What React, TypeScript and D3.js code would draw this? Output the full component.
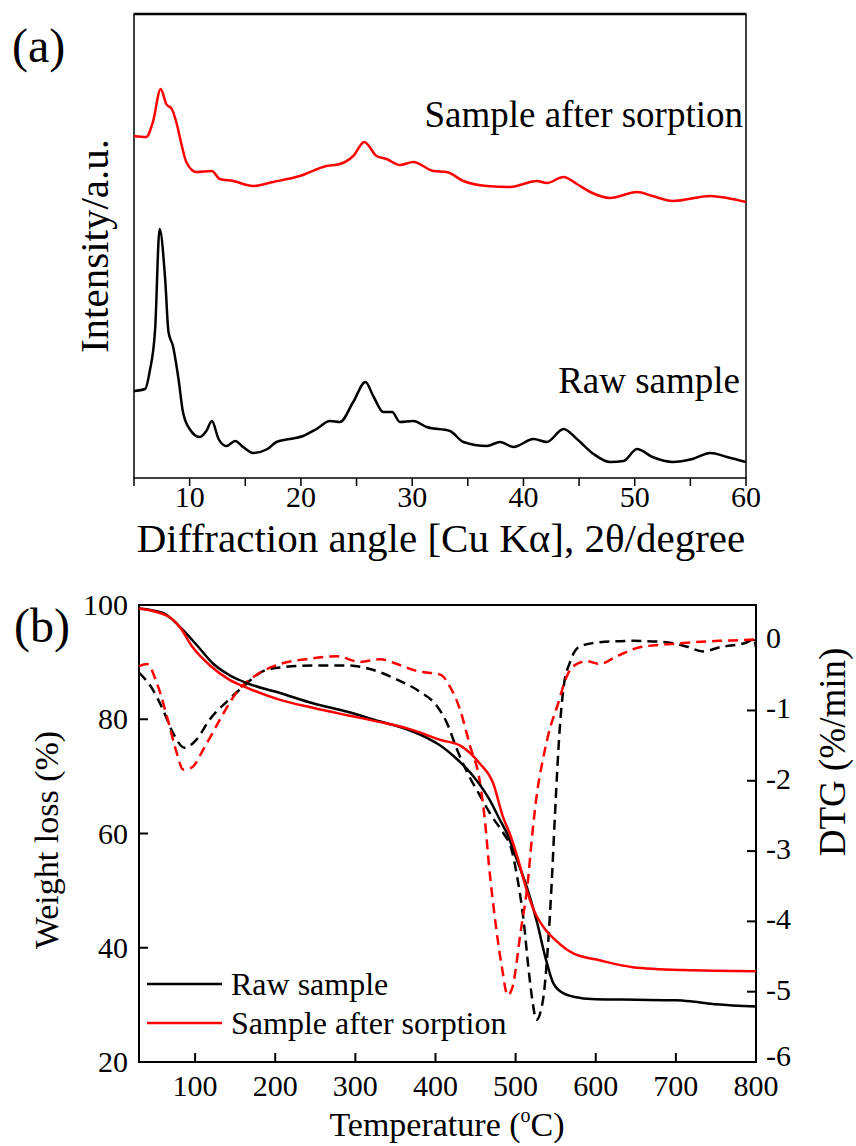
import React from "react";
import * as d3 from "d3";

// ---------- XRD data (panel a) ----------
const rawTheta = [5, 6, 6.4, 6.9, 7.3, 7.8, 8.1, 8.5, 9, 9.4, 10, 10.9, 11.5, 12, 12.6, 13.3, 14.1, 14.8, 15.7, 17, 17.8, 19, 20.2, 21.4, 22.6, 23.5, 24.7, 25.8, 26.5, 27.4, 28.2, 28.9, 30.1, 31.3, 33.4, 34.6, 36.7, 37.9, 39.1, 40.9, 42.1, 43.6, 44.8, 46.3, 47.8, 49, 50.2, 51.6, 53.4, 55.2, 56.8, 58.3, 60];
const rawIntensity = [87, 89, 106, 149, 249, 199, 146, 132, 99, 66, 49, 41, 47, 57, 39, 32, 37, 31, 25, 29, 36, 39, 42, 49, 57, 56, 76, 96, 82, 66, 66, 56, 57, 51, 47, 36, 32, 36, 31, 39, 36, 49, 39, 24, 16, 17, 29, 21, 16, 19, 25, 21, 16];

const sorbTheta = [5, 6.1, 6.7, 7.4, 7.9, 8.4, 8.8, 9.3, 9.7, 10.6, 12, 12.7, 13.9, 15.7, 17.5, 19.9, 22.3, 23.5, 24.7, 25.7, 26.8, 27.7, 28.9, 30.1, 31.9, 33.1, 34.6, 36.7, 38.8, 41.2, 42.1, 43.6, 44.8, 46, 47.8, 50.2, 51.6, 53.4, 56.8, 58.3, 60];
const sorbIntensity = [342, 341, 356, 389, 374, 369, 356, 332, 316, 306, 307, 299, 297, 292, 296, 302, 312, 314, 322, 336, 322, 319, 313, 316, 307, 306, 297, 292, 291, 297, 295, 301, 294, 286, 280, 286, 282, 277, 282, 280, 276];

const xrdTicks = [10, 20, 30, 40, 50, 60];
const xrdMinorTicks = [5, 15, 25, 35, 45, 55];

// ---------- TG / DTG data (panel b) ----------
const rawTgTemp = [30, 60, 72, 85, 102, 122, 143, 165, 206, 247, 290, 331, 365, 390, 405, 427, 448, 468, 480, 490, 500, 514, 527, 537, 547, 560, 581, 600, 650, 700, 720, 750, 800];
const rawTgWeight = [99.4, 98.6, 97.4, 95.6, 93, 89.8, 87.7, 86.3, 84.6, 82.8, 81.3, 79.6, 78.2, 76.7, 75.5, 73, 69.9, 65.8, 62.5, 59.8, 56, 50.6, 44.3, 38.4, 33.8, 32, 31.2, 31, 30.9, 30.8, 30.6, 30.1, 29.7];

const sorbTgTemp = [30, 68, 81, 97, 118, 143, 165, 206, 247, 290, 331, 372, 406, 432, 455, 472, 484, 494, 503, 513, 523, 537, 550, 572, 605, 646, 709, 800];
const sorbTgWeight = [99.4, 97.9, 96.1, 92.6, 89.5, 86.9, 85.5, 83.4, 82, 80.7, 79.5, 78.1, 76.4, 75.3, 72.3, 68.8, 63, 59.5, 55.5, 50.5, 46.5, 43.2, 41.3, 39, 37.8, 36.6, 36.1, 35.9];

const rawDtgTemp = [30, 47, 60, 72, 87, 102, 118, 140, 160, 185, 206, 247, 290, 318, 352, 380, 402, 414, 427, 440, 455, 470, 485, 494, 502, 510, 516, 521, 526, 534, 540, 545, 549, 555, 560, 568, 580, 605, 646, 688, 713, 734, 755, 789, 797, 800];
const rawDtg = [-0.46, -0.7, -0.99, -1.31, -1.53, -1.41, -1.13, -0.87, -0.66, -0.44, -0.39, -0.36, -0.36, -0.41, -0.56, -0.73, -0.94, -1.17, -1.56, -1.89, -2.2, -2.5, -2.75, -2.94, -3.37, -3.99, -4.66, -5.13, -5.4, -5.13, -4.41, -3.46, -2.51, -1.27, -0.66, -0.31, -0.09, -0.03, -0.01, -0.03, -0.09, -0.16, -0.1, -0.03, 0.01, -0.1];

const sorbDtgTemp = [30, 40, 52, 65, 77, 85, 96, 110, 131, 152, 177, 206, 239, 277, 306, 331, 352, 377, 406, 418, 431, 443, 455, 462, 467, 475, 483, 490, 496, 506, 515, 521, 527, 534, 543, 552, 564, 572, 589, 605, 626, 655, 689, 722, 755, 797, 800];
const sorbDtg = [-0.37, -0.34, -0.6, -1.09, -1.6, -1.84, -1.81, -1.56, -1.13, -0.74, -0.49, -0.34, -0.27, -0.23, -0.31, -0.27, -0.34, -0.44, -0.49, -0.66, -1.0, -1.5, -1.99, -2.6, -3.23, -4.03, -4.66, -5.05, -4.94, -4.17, -3.46, -2.74, -2.15, -1.7, -1.25, -0.94, -0.51, -0.37, -0.3, -0.34, -0.23, -0.1, -0.06, -0.03, -0.01, 0.01, 0.02];

const tempTicks = [100, 200, 300, 400, 500, 600, 700, 800];
const weightTicks = [20, 40, 60, 80, 100];
const dtgTicks = [-6, -5, -4, -3, -2, -1, 0];

const FONT = '"Liberation Serif", "DejaVu Serif", "Times New Roman", Times, serif';

type Pt = [number, number];
const zip = (a: number[], b: number[]): Pt[] => a.map((v, i) => [v, b[i]]);

function T(props: any) {
  const { children, ...rest } = props;
  return (
    <text fontFamily={FONT} style={{ fontFamily: FONT }} fill="#000" {...rest}>
      {children}
    </text>
  );
}

export default function App() {
  // Panel a scales
  const xA = d3.scaleLinear().domain([5, 60]).range([134, 746]);
  const yA = d3.scaleLinear().domain([0, 464]).range([478, 14]);
  const lineA = d3
    .line<Pt>()
    .x((d) => xA(d[0]))
    .y((d) => yA(d[1]))
    .curve(d3.curveMonotoneX);

  // Panel b scales
  const xB = d3.scaleLinear().domain([30, 800]).range([139, 756]);
  const yB = d3.scaleLinear().domain([20, 100]).range([1062, 605]);
  const yB2 = d3.scaleLinear().domain([-6, 0.5]).range([1062, 605]);
  const lineTg = d3
    .line<Pt>()
    .x((d) => xB(d[0]))
    .y((d) => yB(d[1]))
    .curve(d3.curveMonotoneX);
  const lineDtg = d3
    .line<Pt>()
    .x((d) => xB(d[0]))
    .y((d) => yB2(d[1]))
    .curve(d3.curveMonotoneX);

  const aTop = 14, aBottom = 478, aLeft = 134, aRight = 746;
  const bTop = 605, bBottom = 1062, bLeft = 139, bRight = 756;

  return (
    <div style={{ position: "absolute", left: 0, top: 0, fontFamily: FONT }}>
      <svg width={856} height={1146} style={{ display: "block", background: "#fff" }}>
        {/* ---------------- Panel (a) ---------------- */}
        <T x={12} y={62} fontSize={48}>(a)</T>
        <rect x={aLeft} y={aTop} width={aRight - aLeft} height={aBottom - aTop} fill="none" stroke="#000" strokeWidth={1.5} />
        <line x1={aLeft} x2={aRight} y1={aTop} y2={aTop} stroke="#000" strokeWidth={2.5} />
        {xrdTicks.concat(xrdMinorTicks).map((t) => (
          <line key={"at" + t} x1={xA(t)} x2={xA(t)} y1={aBottom} y2={aBottom + 8} stroke="#000" strokeWidth={1.5} />
        ))}
        {xrdTicks.map((t) => (
          <T key={"al" + t} x={xA(t)} y={507} fontSize={30} textAnchor="middle">{t}</T>
        ))}
        <T x={441} y={552} fontSize={41} textAnchor="middle">Diffraction angle [Cu Kα], 2θ/degree</T>
        <T transform="translate(108,246) rotate(-90)" fontSize={41} textAnchor="middle">Intensity/a.u.</T>

        <path d={lineA(zip(sorbTheta, sorbIntensity)) || ""} fill="none" stroke="#ff0000" strokeWidth={2.5} />
        <path d={lineA(zip(rawTheta, rawIntensity)) || ""} fill="none" stroke="#000" strokeWidth={2.5} />

        <T x={743} y={127} fontSize={37} textAnchor="end">Sample after sorption</T>
        <T x={740} y={393} fontSize={37} textAnchor="end">Raw sample</T>

        {/* ---------------- Panel (b) ---------------- */}
        <T x={14} y={642} fontSize={48}>(b)</T>
        <rect x={bLeft} y={bTop} width={bRight - bLeft} height={bBottom - bTop} fill="none" stroke="#000" strokeWidth={2} />
        {tempTicks.map((t) => (
          <g key={"bt" + t}>
            <line x1={xB(t)} x2={xB(t)} y1={bBottom} y2={bBottom - 9} stroke="#000" strokeWidth={2} />
            <T x={xB(t)} y={1096} fontSize={30} textAnchor="middle">{t}</T>
          </g>
        ))}
        {weightTicks.map((t) => (
          <g key={"bw" + t}>
            <line x1={bLeft} x2={bLeft + 9} y1={yB(t)} y2={yB(t)} stroke="#000" strokeWidth={2} />
            <T x={128} y={yB(t) + 10} fontSize={30} textAnchor="end">{t}</T>
          </g>
        ))}
        {dtgTicks.map((t) => (
          <g key={"bd" + t}>
            <line x1={bRight} x2={bRight - 9} y1={yB2(t)} y2={yB2(t)} stroke="#000" strokeWidth={2} />
            <T x={766} y={yB2(t) + (t === -6 ? 4 : 8)} fontSize={30} textAnchor="start">{t}</T>
          </g>
        ))}
        <T x={447} y={1136} fontSize={34} textAnchor="middle">
          Temperature (<tspan fontSize={20} dy={-14}>o</tspan><tspan dy={14}>C)</tspan>
        </T>
        <T transform="translate(58,840) rotate(-90)" fontSize={34} textAnchor="middle">Weight loss (%)</T>
        <T transform="translate(845,752) rotate(-90)" fontSize={37} textAnchor="middle">DTG (%/min)</T>

        <path d={lineDtg(zip(rawDtgTemp, rawDtg)) || ""} fill="none" stroke="#000" strokeWidth={2.5} strokeDasharray="10,6" />
        <path d={lineDtg(zip(sorbDtgTemp, sorbDtg)) || ""} fill="none" stroke="#ff0000" strokeWidth={2.5} strokeDasharray="10,6" />
        <path d={lineTg(zip(rawTgTemp, rawTgWeight)) || ""} fill="none" stroke="#000" strokeWidth={2.5} />
        <path d={lineTg(zip(sorbTgTemp, sorbTgWeight)) || ""} fill="none" stroke="#ff0000" strokeWidth={2.5} />

        {/* legend */}
        <line x1={147} x2={222} y1={984} y2={984} stroke="#000" strokeWidth={2.5} />
        <T x={231} y={995} fontSize={32}>Raw sample</T>
        <line x1={147} x2={222} y1={1023} y2={1023} stroke="#ff0000" strokeWidth={2.5} />
        <T x={231} y={1034} fontSize={32}>Sample after sorption</T>
      </svg>
    </div>
  );
}
